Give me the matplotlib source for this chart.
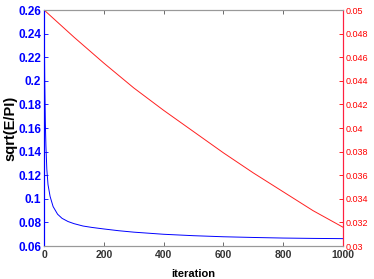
import matplotlib
matplotlib.use("Agg")
import matplotlib.pyplot as plt
import numpy as np

plt.rcParams["font.family"] = ["Liberation Sans", "DejaVu Sans"]

# blue series: sqrt(E/PI) vs iteration (left axis)
iter_blue = [0, 2, 4, 6, 9, 13, 20, 30, 45, 60, 80, 100, 130, 160, 200, 250, 300,
             400, 500, 600, 700, 800, 900, 1000]
sqrt_e_pi = [0.26, 0.20, 0.165, 0.145, 0.125, 0.112, 0.102, 0.0935, 0.087, 0.0835, 0.0808,
             0.079, 0.077, 0.0758, 0.0745, 0.0730, 0.0718, 0.0700, 0.0688, 0.0679, 0.0673,
             0.0668, 0.0665, 0.0663]

# red series (right axis)
iter_red = [0, 100, 200, 300, 400, 500, 600, 700, 800, 900, 1000]
red_vals = [0.05, 0.0477, 0.0455, 0.0434, 0.0415, 0.0397, 0.0379, 0.0362, 0.0346, 0.0330, 0.0316]

x_ticks = [0, 200, 400, 600, 800, 1000]
left_ticks = [0.06, 0.08, 0.1, 0.12, 0.14, 0.16, 0.18, 0.2, 0.22, 0.24, 0.26]
right_ticks = [0.03, 0.032, 0.034, 0.036, 0.038, 0.04, 0.042, 0.044, 0.046, 0.048, 0.05]

fig = plt.figure(figsize=(3.74, 2.79), dpi=100)
ax = fig.add_axes([0.118, 0.118, 0.799, 0.846])
ax2 = ax.twinx()

ax.plot(iter_blue, sqrt_e_pi, color="#0000ff", linewidth=0.7)
ax2.plot(iter_red, red_vals, color="#ff2020", linewidth=0.7)

ax.set_xlim(0, 1000)
ax.set_ylim(0.06, 0.26)
ax2.set_ylim(0.03, 0.05)

ax.set_xticks(x_ticks)
ax.set_xticklabels([str(v) for v in x_ticks], fontsize=7.5, fontweight="bold", color="#333333")
ax.set_yticks(left_ticks)
ax.set_yticklabels(["%g" % v for v in left_ticks], fontsize=8.5, fontweight="bold", color="#0000ff")
ax2.set_yticks(right_ticks)
ax2.set_yticklabels(["%g" % v for v in right_ticks], fontsize=6.5, color="#ff0000")

ax.tick_params(axis="x", direction="in", length=3, width=0.6, color="#555555", top=True, pad=3)
ax.tick_params(axis="y", direction="in", length=3, width=0.6, color="#0000ff", pad=2)
ax2.tick_params(axis="y", direction="in", length=3, width=0.6, color="#ff0000", pad=2)

for a in (ax, ax2):
    a.spines["top"].set_color("#999999")
    a.spines["bottom"].set_color("#999999")
    a.spines["left"].set_color("#0000ff")
    a.spines["right"].set_color("#ff2040")
    for s in a.spines.values():
        s.set_linewidth(0.8)

ax.set_ylabel("sqrt(E/PI)", fontsize=10.5, fontweight="bold", labelpad=1)
ax.set_xlabel("iteration", fontsize=8, fontweight="bold", labelpad=6)

fig.savefig("out.png", dpi=100)
